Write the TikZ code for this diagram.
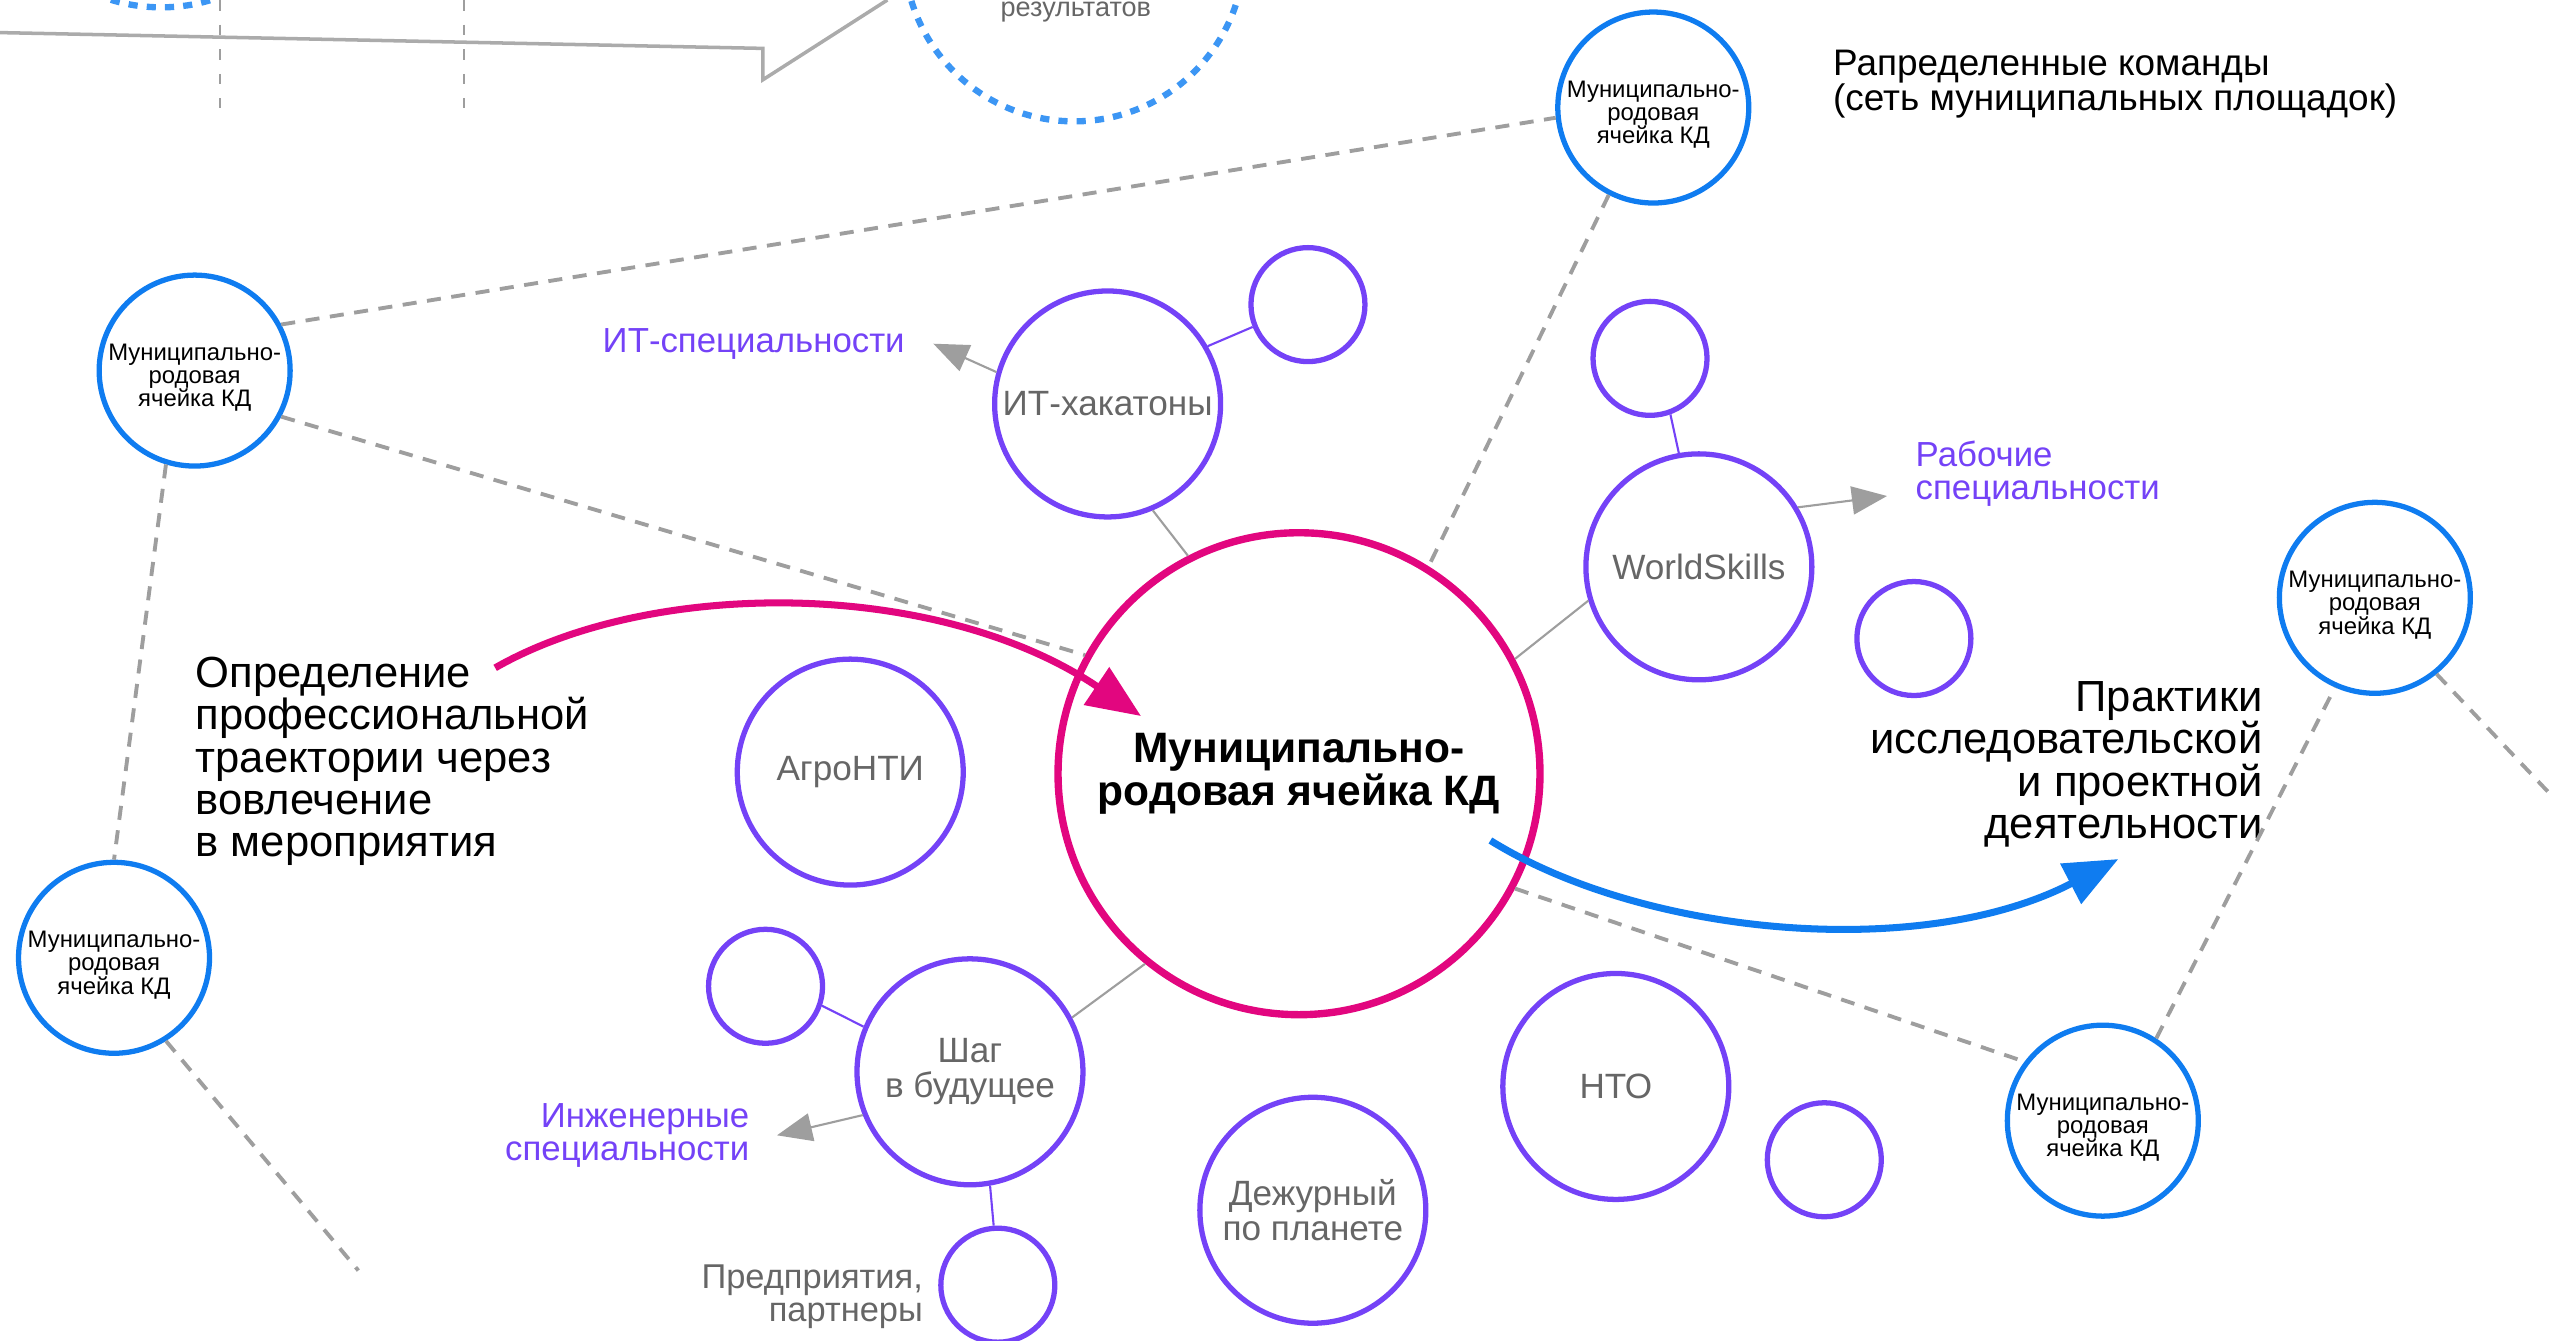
\documentclass[tikz,border=0pt]{standalone}
\usepackage{fontspec}
\setmainfont{Liberation Sans}
\usepackage{tikz}
\usetikzlibrary{arrows.meta}
\definecolor{hubpink}{HTML}{E2067F}
\definecolor{eventviolet}{HTML}{7442F7}
\definecolor{cellblue}{HTML}{0F7CF0}
\definecolor{dotblue}{HTML}{3C96F4}
\definecolor{wiregray}{HTML}{9E9E9E}
\definecolor{inkgray}{HTML}{666666}
\newcommand{\celltext}{\rule{0pt}{8.8pt}Муниципально-\\родовая\\ячейка КД}

\begin{document}
\begin{tikzpicture}[x=0.1629mm,y=-0.1629mm,
 hub/.style={circle,draw=hubpink,line width=2.1pt,minimum size=48.2mm,inner sep=-10pt,align=center,font=\fontsize{12.1}{12.2}\selectfont\bfseries},
 event/.style={circle,draw=eventviolet,line width=1.5pt,minimum size=22.6mm,inner sep=-10pt,align=center,text=inkgray,font=\fontsize{10}{9.9}\selectfont},
 sat/.style={circle,draw=eventviolet,line width=1.5pt,minimum size=11.4mm,inner sep=0pt},
 cell/.style={circle,draw=cellblue,line width=1.5pt,minimum size=19.1mm,inner sep=-10pt,align=center,font=\fontsize{6.8}{6.6}\selectfont},
 spec/.style={text=eventviolet,font=\fontsize{9.9}{9.4}\selectfont,inner ysep=0pt,inner xsep=2.8mm},
 note/.style={font=\fontsize{12.4}{12}\selectfont,inner sep=0pt},
 trail/.style={wiregray,line width=1.1pt,dash pattern=on 4pt off 3pt},
 tie/.style={wiregray,line width=0.6pt},
 ptie/.style={eventviolet,line width=0.6pt},
 pointer/.style={wiregray,line width=0.6pt,-{Triangle[length=10pt,width=8pt]}},
 sweep/.style={line width=2pt,-{Triangle[length=15.3pt,width=12.5pt]}},
 dotring/.style={dotblue,line width=1.8pt,dash pattern=on 2.6pt off 2.6pt},
 guide/.style={wiregray,line width=0.5pt,dash pattern=on 3pt off 4pt},
 shell/.style={black!33,line width=1pt}]
\useasboundingbox (0,0) rectangle (1568,823);
\clip (0,0) rectangle (1568,823);

\draw[dotring] (99,-100.5) circle[radius=105];
\draw[dotring] (659.5,-30) circle[radius=104.5];
\draw[guide] (135,0) -- (135,66.5);
\draw[guide] (285,0) -- (285,66.5);
\draw[shell] (0,20) -- (468.3,29.7) -- (468.3,49) -- (544.8,0);
\node[font=\fontsize{7.7}{8}\selectfont,text=inkgray,inner sep=0pt,anchor=base] (reslab) at (660.5,10.2) {результатов};

\node[hub] (kd) at (797.5,475) {Муниципально-\\родовая ячейка КД};
\node[event] (it) at (680,248) {ИТ-хакатоны};
\node[sat] (itsat) at (803,187) {};
\node[event] (ws) at (1043,348) {WorldSkills};
\node[sat] (wssat) at (1013,220) {};
\node[sat] (wsfree) at (1175,392) {};
\node[event] (agro) at (522,474) {АгроНТИ};
\node[event] (shag) at (595.5,658) {Шаг\\в будущее};
\node[sat] (shagsat) at (470,605.5) {};
\node[sat] (shagsatb) at (612.6,789) {};
\node[event] (duty) at (806,743) {Дежурный\\по планете};
\node[event] (nto) at (992,667) {НТО};
\node[sat] (ntosat) at (1120,712) {};

\node[cell] (mun1) at (1015,66) {\celltext};
\node[cell] (mun2) at (119.5,227.5) {\celltext};
\node[cell] (mun3) at (70,588) {\celltext};
\node[cell] (mun4) at (1458,367) {\celltext};
\node[cell] (mun5) at (1291,688) {\celltext};
\coordinate (tailA) at (220,780);
\coordinate (tailB) at (1568,490);

\node[spec,anchor=east] (itlab) at (573,211) {ИТ-специальности};
\node[spec,anchor=west,align=left] (wslab) at (1158.5,291) {Рабочие\\специальности};
\node[spec,anchor=east,align=right,inner xsep=2.7mm] (shaglab) at (477,697) {Инженерные\\специальности};
\node[spec,anchor=east,align=right,text=inkgray,inner xsep=0pt,font=\fontsize{9.8}{9.4}\selectfont] (partlab) at (567,796) {Предприятия,\\партнеры};

\node[note,anchor=west,align=left] (deflab) at (119.7,467.4) {Определение\\профессиональной\\траектории через\\вовлечение\\в мероприятия};
\node[note,anchor=east,align=right] (praclab) at (1389.5,469.2) {Практики\\исследовательской\\и проектной\\деятельности};
\node[note,anchor=west,align=left,font=\fontsize{10.5}{10}\selectfont] (teams) at (1125,51.5) {Рапределенные команды\\(сеть муниципальных площадок)};

\draw[trail] (mun2.28) -- (mun1.186);
\draw[trail] (mun2.-28) -- (kd.151);
\draw[trail] (mun1.-117) -- (kd.58);
\draw[trail] (mun2.-107) -- (mun3.90);
\draw[trail] (mun3.-58) -- (tailA);
\draw[trail] (kd.-28.5) -- (mun5.143);
\draw[trail] (mun5.57) -- (mun4.246);
\draw[trail] (mun4.-51.5) -- (tailB);

\draw[tie] (it.-67) -- (kd.117);
\draw[tie] (ws.197) -- (kd.28);
\draw[tie] (shag.28) -- (kd.-129);
\draw[ptie] (it.30) -- (itsat.202);
\draw[ptie] (ws.100) -- (wssat.-70);
\draw[ptie] (shag.157) -- (shagsat.-19);
\draw[ptie] (shag.-80) -- (shagsatb.94);

\draw[pointer] (it.164) -- (itlab.east);
\draw[pointer] (ws.31) -- ([yshift=-2.2mm]wslab.west);
\draw[pointer] (shag.202) -- (shaglab.east);

\coordinate (sweepin) at (304,410);
\coordinate (sweepinend) at (700.5,439.6);
\draw[sweep,hubpink] (sweepin) .. controls (400,355) and (575,355) .. (sweepinend);
\coordinate (sweepout) at (915,516);
\coordinate (sweepoutend) at (1300.5,527.4);
\draw[sweep,cellblue] (sweepout) .. controls (1010,575) and (1180,590) .. (sweepoutend);
\end{tikzpicture}
\end{document}
